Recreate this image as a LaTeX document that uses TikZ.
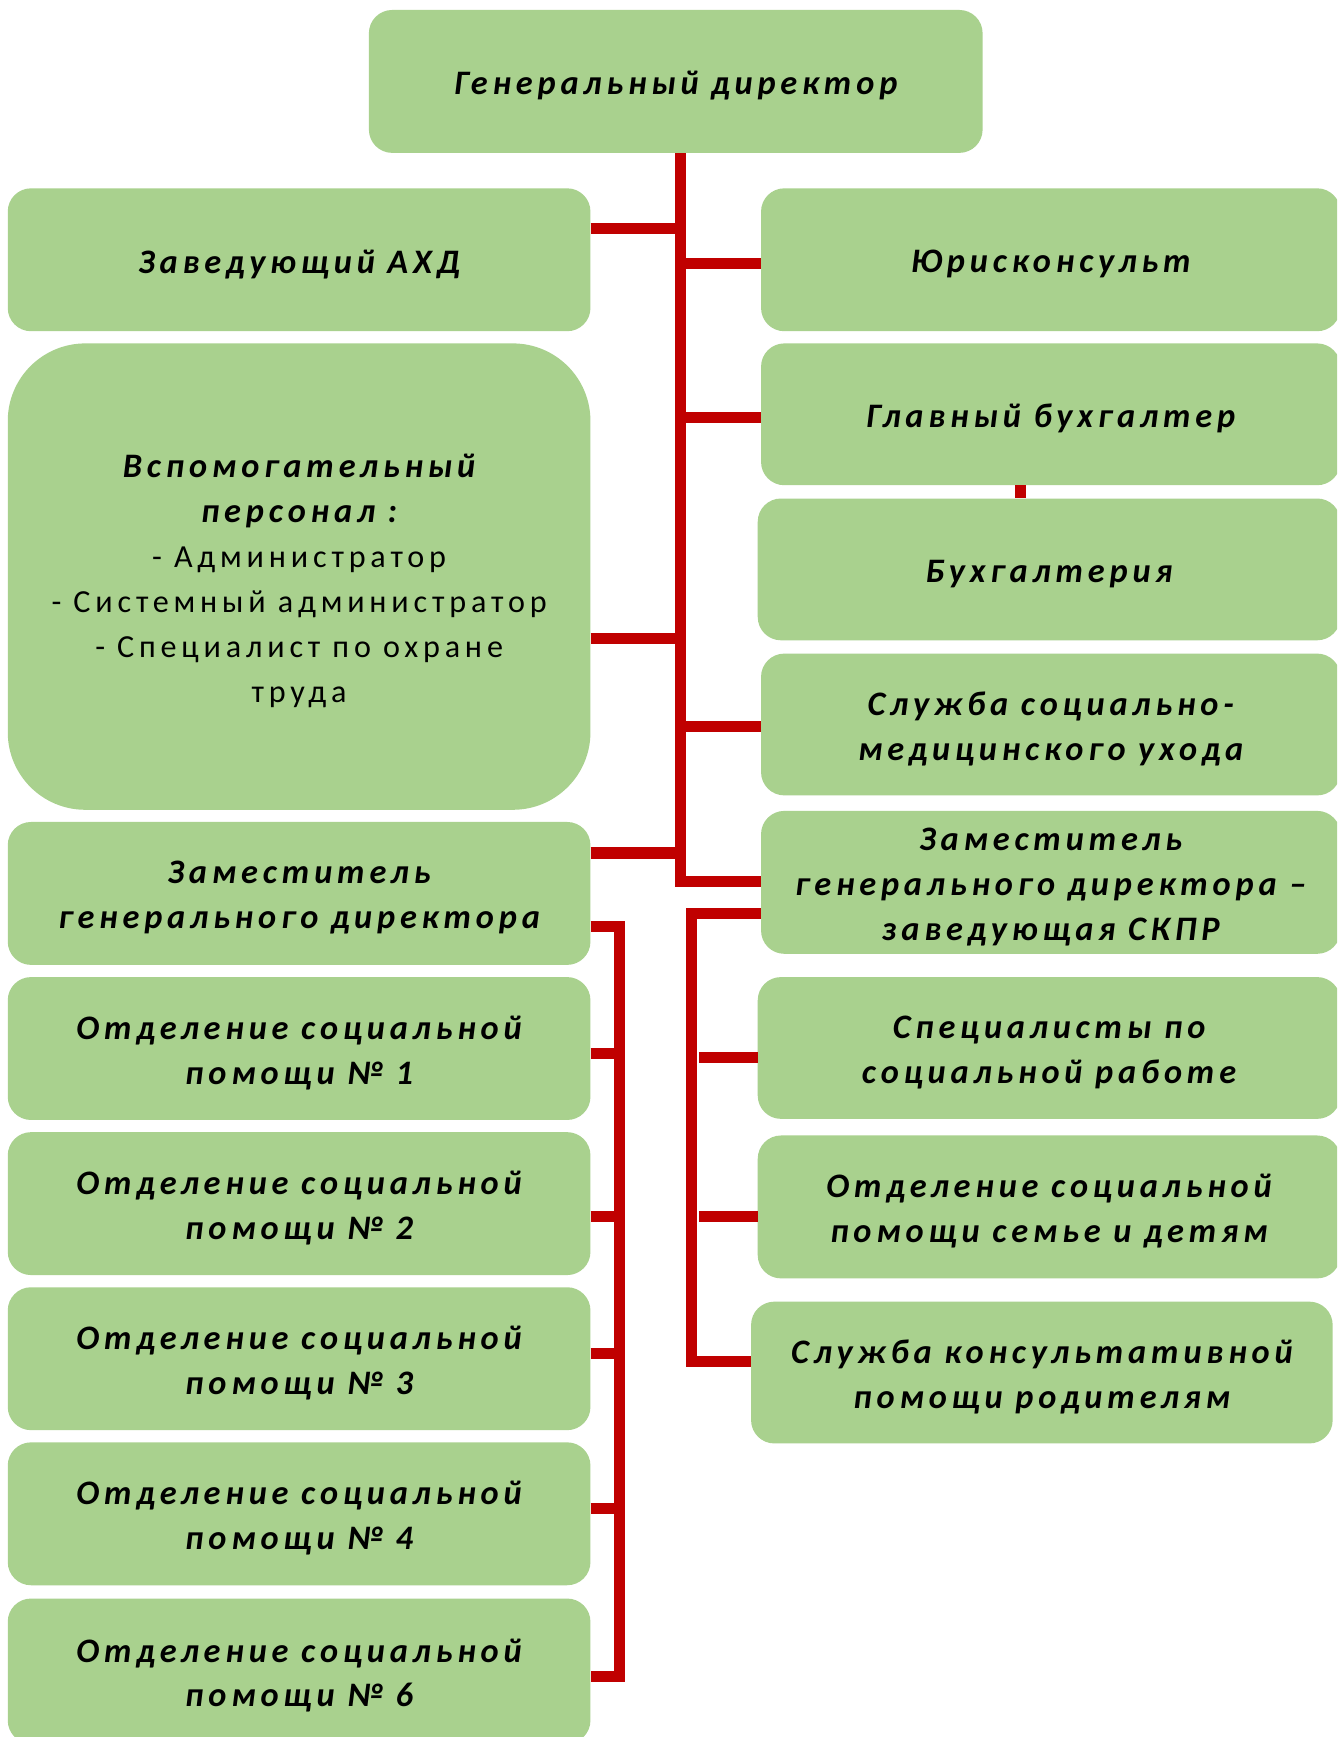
\documentclass[tikz,border=0pt]{standalone}
\usepackage{fontspec}
\setmainfont{Carlito}[LetterSpace=14]
\definecolor{boxgreen}{HTML}{A9D18E}
\definecolor{linered}{HTML}{C00000}
\newcommand{\plainline}[1]{{\normalfont\fontsize{29}{40.5}\selectfont\addfontfeatures{LetterSpace=15}#1}}
\tikzset{
  box/.style={fill=boxgreen, draw=none, rounded corners=21pt, inner sep=0pt},
  txt/.style={align=center, inner sep=0pt, text=black,
    font=\fontsize{31}{40.5}\selectfont\bfseries\itshape},
  conn/.style={draw=linered, line width=10pt, line join=miter, line cap=butt},
}
\begin{document}
\begin{tikzpicture}[x=1pt,y=-1pt]
\clip (0,0) rectangle (1207,1568);
\fill[white] (0,0) rectangle (1207,1568);
% boxes
\node[box, minimum width=554pt, minimum height=129pt] (gen) at (610,73.5) {};
\node[box, minimum width=526pt, minimum height=129pt] (ahd) at (270,234.5) {};
\node[box, minimum width=526pt, minimum height=421pt, rounded corners=70pt] (vsp) at (270,520.5) {};
\node[box, minimum width=526pt, minimum height=129pt] (zam) at (270,806.5) {};
\node[box, minimum width=526pt, minimum height=129pt] (o1) at (270,946.5) {};
\node[box, minimum width=526pt, minimum height=129pt] (o2) at (270,1086.5) {};
\node[box, minimum width=526pt, minimum height=129pt] (o3) at (270,1226.5) {};
\node[box, minimum width=526pt, minimum height=129pt] (o4) at (270,1366.5) {};
\node[box, minimum width=526pt, minimum height=131pt] (o6) at (270,1508.5) {};
\node[box, minimum width=523pt, minimum height=129pt] (jur) at (948.5,234.5) {};
\node[box, minimum width=523pt, minimum height=128pt] (glb) at (948.5,374) {};
\node[box, minimum width=526pt, minimum height=128pt] (buh) at (947,514) {};
\node[box, minimum width=523pt, minimum height=128pt] (smu) at (948.5,654) {};
\node[box, minimum width=523pt, minimum height=129pt] (skpr) at (948.5,796.5) {};
\node[box, minimum width=526pt, minimum height=128pt] (spec) at (947,946) {};
\node[box, minimum width=526pt, minimum height=129pt] (sem) at (947,1089.5) {};
\node[box, minimum width=525pt, minimum height=128pt] (kons) at (940.5,1239) {};
% texts
\node[txt] (gen-t) at ([yshift=-4pt]gen.center) {Генеральный директор};
\node[txt] (ahd-t) at ([yshift=-4pt]ahd.center) {Заведующий АХД};
\node[txt] (vsp-t) at ([yshift=-4pt]vsp.center) {Вспомогательный\\персонал :\\\plainline{- Администратор}\\\plainline{- Системный администратор}\\\plainline{- Специалист по охране}\\\plainline{труда}};
\node[txt] (zam-t) at ([yshift=-4pt]zam.center) {Заместитель\\генерального директора};
\node[txt] (o1-t) at ([yshift=-4pt]o1.center) {Отделение социальной\\помощи № 1};
\node[txt] (o2-t) at ([yshift=-4pt]o2.center) {Отделение социальной\\помощи № 2};
\node[txt] (o3-t) at ([yshift=-4pt]o3.center) {Отделение социальной\\помощи № 3};
\node[txt] (o4-t) at ([yshift=-4pt]o4.center) {Отделение социальной\\помощи № 4};
\node[txt] (o6-t) at ([yshift=-4pt]o6.center) {Отделение социальной\\помощи № 6};
\node[txt] (jur-t) at ([yshift=-4pt]jur.center) {Юрисконсульт};
\node[txt] (glb-t) at ([yshift=-4pt]glb.center) {Главный бухгалтер};
\node[txt] (buh-t) at ([yshift=-4pt]buh.center) {Бухгалтерия};
\node[txt] (smu-t) at ([yshift=-4pt]smu.center) {Служба социально-\\медицинского ухода};
\node[txt] (skpr-t) at ([yshift=-4pt]skpr.center) {Заместитель\\генерального директора –\\заведующая СКПР};
\node[txt] (spec-t) at ([yshift=-4pt]spec.center) {Специалисты по\\социальной работе};
\node[txt] (sem-t) at ([yshift=-4pt]sem.center) {Отделение социальной\\помощи семье и детям};
\node[txt] (kons-t) at ([yshift=-4pt]kons.center) {Служба консультативной\\помощи родителям};
% trunk coordinates
\coordinate (tTop) at (614,138);
\coordinate (tBot) at (614,796);
\coordinate (bAhd) at (614,206);
\coordinate (bJur) at (614,238);
\coordinate (bGlb) at (614,377);
\coordinate (bVsp) at (614,576);
\coordinate (bSmu) at (614,656);
\coordinate (bZam) at (614,770);
% left bus
\coordinate (lTop) at (559,836);
\coordinate (lBot) at (559,1513);
\coordinate (l1) at (559,951);
\coordinate (l2) at (559,1098);
\coordinate (l3) at (559,1222);
\coordinate (l4) at (559,1362);
% right bus
\coordinate (rTop) at (624,825);
\coordinate (rBot) at (624,1229);
\coordinate (r1) at (631,955);
\coordinate (r2) at (631,1098);
% buh link
\coordinate (bhx) at (921,0);
% connectors
\draw[conn] (gen.south -| tTop) -- (tBot) -- (tBot -| skpr.west);
\draw[conn] (bAhd -| ahd.east) -- (bAhd);
\draw[conn] (bJur) -- (bJur -| jur.west);
\draw[conn] (bGlb) -- (bGlb -| glb.west);
\draw[conn] (bVsp -| vsp.east) -- (bVsp);
\draw[conn] (bSmu) -- (bSmu -| smu.west);
\draw[conn] (bZam -| zam.east) -- (bZam);
\draw[conn] (glb.south -| bhx) -- (buh.north -| bhx);
\draw[conn] (lTop -| zam.east) -- (lTop) -- (lBot) -- (lBot -| o6.east);
\draw[conn] (l1 -| o1.east) -- (l1);
\draw[conn] (l2 -| o2.east) -- (l2);
\draw[conn] (l3 -| o3.east) -- (l3);
\draw[conn] (l4 -| o4.east) -- (l4);
\draw[conn] (rTop -| skpr.west) -- (rTop) -- (rBot) -- (rBot -| kons.west);
\draw[conn] (r1) -- (r1 -| spec.west);
\draw[conn] (r2) -- (r2 -| sem.west);
\end{tikzpicture}
\end{document}
